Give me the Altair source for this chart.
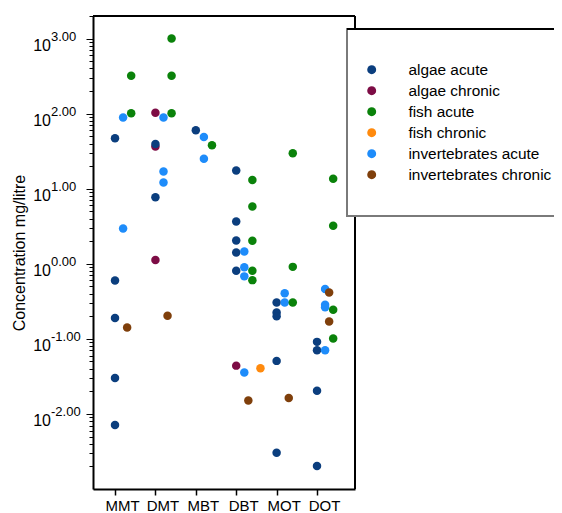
import altair as alt
import pandas as pd

categories = ["MMT", "DMT", "MBT", "DBT", "MOT", "DOT"]
series = ["algae acute", "algae chronic", "fish acute", "fish chronic",
          "invertebrates acute", "invertebrates chronic"]
colors = ["#0B3E7E", "#7D0C45", "#0A820A", "#FF8A0D", "#1E8CFA", "#7F3F0B"]

algae_acute = {"MMT": [47, 0.6, 0.19, 0.03, 0.0071], "DMT": [39.4, 7.7], "MBT": [60],
               "DBT": [17.5, 3.65, 2.05, 1.41, 0.81],
               "MOT": [0.305, 0.224, 0.2, 0.0509, 0.00305],
               "DOT": [0.0912, 0.0707, 0.0203, 0.00203]}
algae_chronic = {"DMT": [103, 36.5, 1.12], "DBT": [0.044]}
fish_acute = {"MMT": [320, 101], "DMT": [1000, 320, 101], "MBT": [38],
              "DBT": [13.1, 5.8, 2.03, 0.81, 0.606], "MOT": [29.6, 0.91, 0.305],
              "DOT": [13.6, 3.21, 0.244, 0.101]}
fish_chronic = {"DBT": [0.0406]}
invert_acute = {"MMT": [89, 2.95], "DMT": [89, 17, 12.1], "MBT": [49, 25],
                "DBT": [1.46, 0.9, 0.68, 0.0356], "MOT": [0.406, 0.305],
                "DOT": [0.46, 0.284, 0.263, 0.0707]}
invert_chronic = {"MMT": [0.142], "DMT": [0.203], "DBT": [0.0151], "MOT": [0.0163],
                  "DOT": [0.414, 0.170]}

# drawing order (later on top) and horizontal dodge within a category (fraction of step)
draw_order = [("algae chronic", algae_chronic), ("algae acute", algae_acute),
              ("invertebrates acute", invert_acute), ("invertebrates chronic", invert_chronic),
              ("fish acute", fish_acute), ("fish chronic", fish_chronic)]
dodge = {"algae acute": 0.0, "algae chronic": 0.0, "invertebrates acute": 0.2,
         "invertebrates chronic": 0.3, "fish acute": 0.4, "fish chronic": 0.6}

rows = []
for name, d in draw_order:
    for cat, vals in d.items():
        for v in vals:
            rows.append({"series": name, "category": cat,
                         "pos": categories.index(cat) + dodge[name], "conc": v})
df = pd.DataFrame(rows)

exponents = [-2, -1, 0, 1, 2, 3]
tick_values = [m * 10.0 ** e for e in range(-3, 4) for m in range(1, 10)
               if 0.0015 < m * 10.0 ** e <= 2000]
lab = pd.DataFrame({"v": [10.0 ** e for e in exponents],
                    "base": ["10"] * len(exponents),
                    "sup": [f"{e:.2f}" for e in exponents]})

W, H = 262, 473
FONT = "Liberation Sans"
ydom = [0.001, 2000]
xdom = [-0.545, 5.94]

cat_expr = "[" + ",".join(f"'{c}'" for c in categories) + "][datum.value]"
major_test = "abs(log(datum.value)/LN10 - round(log(datum.value)/LN10)) < 1e-6"

points = alt.Chart(df).mark_circle(size=72, opacity=1).encode(
    x=alt.X("pos:Q", scale=alt.Scale(domain=xdom, nice=False, zero=False),
            axis=alt.Axis(values=list(range(len(categories))), labelExpr=cat_expr,
                          title=None, grid=False, tickSize=6, tickColor="black",
                          domainColor="black", domainWidth=2, tickWidth=1.5,
                          labelFontSize=15, labelFont=FONT, labelColor="black",
                          labelOffset=7, labelPadding=3)),
    y=alt.Y("conc:Q", scale=alt.Scale(type="log", domain=ydom, nice=False),
            axis=alt.Axis(values=tick_values, labels=False, grid=False,
                          tickSize={"condition": {"test": major_test, "value": 7}, "value": 4},
                          tickColor="black", tickWidth=1, domainColor="black",
                          domainWidth=2, title="Concentration mg/litre",
                          titleFont=FONT, titleFontSize=16, titleFontWeight="normal",
                          titleColor="black", titleX=-69, titleY=H / 2,
                          titleAngle=270, titleBaseline="alphabetic", titleAlign="center")),
    color=alt.Color("series:N", scale=alt.Scale(domain=series, range=colors),
                    legend=alt.Legend(orient="none", legendX=271, legendY=46, title=None,
                                      labelFontSize=15.4, labelFont=FONT, labelColor="black",
                                      symbolSize=80, symbolType="circle", labelOffset=29,
                                      rowPadding=4, padding=0, symbolStrokeWidth=0,
                                      labelLimit=300)),
)

frame_top = alt.Chart(lab).mark_rule(color="black", strokeWidth=2).encode(
    x=alt.value(0), x2=alt.value(W), y=alt.value(0))
frame_right = alt.Chart(lab).mark_rule(color="black", strokeWidth=2).encode(
    x=alt.value(W), y=alt.value(0), y2=alt.value(H))
legend_box = alt.Chart(lab).mark_rect(fill="white", stroke="#7a7a7a", strokeWidth=2).encode(
    x=alt.value(254), x2=alt.value(490), y=alt.value(13), y2=alt.value(200))
legend_top = alt.Chart(lab).mark_rule(color="black", strokeWidth=1.5).encode(
    x=alt.value(254), x2=alt.value(490), y=alt.value(13))

ysc = alt.Scale(type="log", domain=ydom, nice=False)
base_txt = alt.Chart(lab).mark_text(align="right", baseline="middle", dy=7,
                                    fontSize=16, font=FONT, color="black").encode(
    y=alt.Y("v:Q", scale=ysc), x=alt.value(-42), text="base:N")
sup_txt = alt.Chart(lab).mark_text(align="left", baseline="middle", dy=-2,
                                   fontSize=13, font=FONT, color="black").encode(
    y=alt.Y("v:Q", scale=ysc), x=alt.value(-42), text="sup:N")

chart = alt.layer(frame_top, frame_right, points, base_txt, sup_txt, legend_box, legend_top).properties(
    width=W, height=H,
    autosize=alt.AutoSizeParams(type="none"),
    padding={"left": 85, "top": 8, "right": 199, "bottom": 25},
).configure_view(stroke=None).configure(font=FONT)

chart.save("out.html", embed_options={"renderer": "svg", "actions": False})
